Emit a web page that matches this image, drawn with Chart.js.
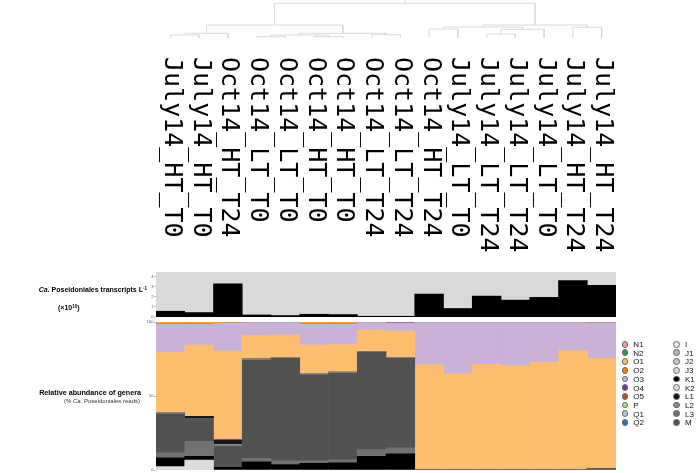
<!DOCTYPE html>
<html>
<head>
<meta charset="utf-8">
<script src="https://cdn.jsdelivr.net/npm/chart.js@4.4.1/dist/chart.umd.min.js"></script>
<style>
  body { margin: 0; background: #fff; width: 699px; height: 473px; position: relative; overflow: hidden; font-family: "Liberation Sans", Arial, sans-serif; }
  canvas { position: absolute; }
  .lbl { position: absolute; color: #000; white-space: nowrap; }
  .lbl sup { font-size: 4.5px; position: relative; top: -2.5px; vertical-align: baseline; }
  #legend { position: absolute; left: 621.5px; top: 340px; font-size: 8px; color: #111; }
  #legend .item { position: absolute; width: 50px; height: 9px; line-height: 9px; white-space: nowrap; }
  #legend .dot { display: inline-block; width: 6.8px; height: 6.8px; box-sizing: border-box; border-radius: 50%; border: 0.7px solid #666; vertical-align: -0.6px; margin-right: 5px; }
</style>
</head>
<body>
<canvas id="dendro" width="460" height="262" style="left:156px;top:0px"></canvas>
<canvas id="topChart" width="518" height="52" style="left:100px;top:268px"></canvas>
<canvas id="stackChart" width="518" height="155" style="left:100px;top:318px"></canvas>

<div class="lbl" style="right:552px;top:286px;font-size:7px;line-height:8px;font-weight:bold"><i>Ca.</i> Poseidoniales transcripts L<sup>-1</sup></div>
<div class="lbl" style="left:58px;top:304px;font-size:7px;line-height:8px;font-weight:bold">(×10<sup>10</sup>)</div>
<div class="lbl" style="right:558px;top:389px;font-size:7.2px;line-height:8px;font-weight:bold">Relative abundance of genera</div>
<div class="lbl" style="right:559px;top:398px;font-size:6px;line-height:7px;color:#333">(% <i>Ca.</i> Poseidoniales reads)</div>
<div id="legend"></div>

<script>
var samples = ['July14_HT_T0', 'July14_HT_T0', 'Oct14_HT_T24', 'Oct14_LT_T0', 'Oct14_LT_T0', 'Oct14_HT_T0',
    'Oct14_HT_T0', 'Oct14_LT_T24', 'Oct14_LT_T24', 'Oct14_HT_T24', 'July14_LT_T0', 'July14_LT_T24',
    'July14_LT_T24', 'July14_LT_T0', 'July14_HT_T24', 'July14_HT_T24'];

// transcripts L-1 (x10^10)
var transcripts = [0.57, 0.44, 3.27, 0.2, 0.14, 0.27, 0.24, 0.07, 0.07, 2.27, 0.84, 2.07, 1.67, 1.94, 3.6, 3.14];

// dendrogram merges: [child a, child b, height]; ids >= 16 are earlier merges
var merges = [
    [0, 1, 3.0], [16, 2, 4.7], [3, 4, 1.3], [5, 6, 1.3], [18, 19, 3.0], [7, 8, 3.3],
    [20, 21, 4.7], [17, 22, 13.0], [9, 10, 9.0], [11, 12, 4.0], [25, 13, 8.7],
    [24, 26, 11.0], [14, 15, 10.7], [27, 28, 13.0], [23, 29, 34.7]
];

// relative abundance of genera (% reads), one array per genus
var genusK2 = [2.3, 6.7, 0, 0, 0, 0, 0, 0, 0, 0, 0, 0, 0, 0, 0, 0];
var genusK1 = [6.0, 2.7, 1.8, 5.6, 3.8, 4.5, 5.0, 9.4, 11.0, 0, 0, 0, 0, 0, 0, 0];
var genusL3 = [3.4, 10.1, 0, 2.3, 2.5, 1.8, 2.0, 4.5, 4.1, 0, 0, 0, 0, 0, 0, 0];
var genusM  = [26.3, 15.3, 14.4, 66.6, 69.4, 58.1, 58.6, 65.8, 60.6, 0.6, 0.6, 0.6, 0.6, 0.6, 0.6, 1.0];
var genusL2 = [1.0, 0, 1.3, 1.0, 0.5, 1.0, 0.8, 0.5, 0.5, 0, 0, 0, 0, 0, 0, 0];
var genusL1 = [0, 1.6, 2.9, 0, 0, 0, 0, 0, 0, 0, 0, 0, 0, 0, 0, 0];
var genusN1 = [0, 0, 1.0, 0, 0, 0, 0, 0, 0, 0, 0, 0, 0, 0, 0, 0];
var genusO1 = [40.5, 48.2, 59.2, 15.5, 15.2, 19.2, 18.6, 14.5, 17.8, 70.6, 64.5, 71.0, 69.9, 72.4, 80.2, 74.7];
var genusO3 = [19.5, 14.4, 18.9, 9.0, 8.6, 14.4, 14.0, 5.3, 5.5, 28.8, 34.9, 28.4, 29.5, 27.0, 19.2, 24.0];
var genusO4 = [0, 0, 0, 0, 0, 0, 0, 0, 0.5, 0, 0, 0, 0, 0, 0, 0];
var genusO2 = [1.0, 1.0, 0.5, 0, 0, 1.0, 1.0, 0, 0, 0, 0, 0, 0, 0, 0, 0.3];

var legendNames = ['N1', 'N2', 'O1', 'O2', 'O3', 'O4', 'O5', 'P', 'Q1', 'Q2',
    'I', 'J1', 'J2', 'J3', 'K1', 'K2', 'L1', 'L2', 'L3', 'M'];
var legendColors = ['#f49a9a', '#2e9a45', '#fdbf6f', '#ff7f00', '#cab2d6', '#6a3d9a', '#b15928', '#b2df8a', '#a6cee3', '#1f78b4',
    '#ececec', '#b4b4b4', '#c4c4c4', '#d8d8d8', '#000000', '#dcdcdc', '#161616', '#8a8a8a', '#727272', '#525252'];

// stacking order, bottom to top
var stackOrder = ['K2', 'K1', 'L3', 'M', 'L2', 'L1', 'N1', 'O1', 'O3', 'O4', 'O2'];
var genusData = { K2: genusK2, K1: genusK1, L3: genusL3, M: genusM, L2: genusL2, L1: genusL1,
    N1: genusN1, O1: genusO1, O3: genusO3, O4: genusO4, O2: genusO2 };

function colorOf(name) {
    return legendColors[legendNames.indexOf(name)];
}

// ---- dendrogram ----
var nodeX = [], nodeH = [];
for (var i = 0; i < samples.length; i++) { nodeX.push(i + 0.5); nodeH.push(0); }
var dendroPts = [];
merges.forEach(function(m) {
    var a = m[0], b = m[1], h = m[2];
    dendroPts.push({x: nodeX[a], y: nodeH[a]}, {x: nodeX[a], y: h}, {x: nodeX[b], y: h}, {x: nodeX[b], y: nodeH[b]}, {x: NaN, y: NaN});
    nodeX.push((nodeX[a] + nodeX[b]) / 2);
    nodeH.push(h);
});
var rootX = nodeX[nodeX.length - 1], rootH = nodeH[nodeH.length - 1];
dendroPts.push({x: rootX, y: rootH}, {x: rootX, y: 38});

var sampleLabels = {
    id: 'sampleLabels',
    afterDraw: function(chart) {
        var ctx = chart.ctx, xs = chart.scales.x;
        ctx.save();
        ctx.font = '25px "DejaVu Sans Mono", monospace';
        ctx.fillStyle = '#000';
        ctx.textAlign = 'left';
        ctx.textBaseline = 'alphabetic';
        samples.forEach(function(s, i) {
            ctx.save();
            ctx.translate(xs.getPixelForValue(i + 0.5), 57);
            ctx.rotate(Math.PI / 2);
            ctx.fillText(s, 0, 5.4);
            ctx.restore();
        });
        ctx.restore();
    }
};

new Chart(document.getElementById('dendro'), {
    type: 'scatter',
    data: { datasets: [{ data: dendroPts, showLine: true, spanGaps: false, borderColor: '#dadada', borderWidth: 1, pointRadius: 0 }] },
    options: {
        responsive: false, animation: false, devicePixelRatio: 1,
        layout: { padding: { top: 0, left: 0, right: 0, bottom: 222 } },
        plugins: { legend: { display: false }, tooltip: { enabled: false } },
        scales: {
            x: { type: 'linear', display: false, min: 0, max: samples.length },
            y: { type: 'linear', display: false, min: -2, max: 38 }
        },
        elements: { line: { tension: 0 } },
        clip: false
    },
    plugins: [sampleLabels]
});

// ---- transcripts panel ----
var plotBg = {
    id: 'plotBg',
    beforeDatasetsDraw: function(chart) {
        var a = chart.chartArea, ctx = chart.ctx;
        ctx.save();
        ctx.fillStyle = '#d9d9d9';
        ctx.fillRect(a.left, a.top, a.right - a.left, a.bottom - a.top);
        ctx.restore();
    }
};

function yAxis(max, step) {
    return {
        min: 0, max: max,
        afterFit: function(s) { s.width = 56; },
        border: { display: false },
        grid: { drawOnChartArea: false, tickLength: 2, color: '#888', lineWidth: 0.6 },
        ticks: { stepSize: step, includeBounds: false, font: { size: 4, family: 'Liberation Sans' }, color: '#555', padding: 0.5 }
    };
}

new Chart(document.getElementById('topChart'), {
    type: 'bar',
    data: { labels: samples, datasets: [{ data: transcripts, backgroundColor: '#000', borderWidth: 0, barPercentage: 1, categoryPercentage: 1 }] },
    options: {
        responsive: false, animation: false, devicePixelRatio: 1,
        layout: { padding: { top: 4, right: 2, bottom: 3, left: 0 } },
        plugins: { legend: { display: false }, tooltip: { enabled: false } },
        scales: { x: { display: false }, y: yAxis(4.45, 1) }
    },
    plugins: [plotBg]
});

// ---- relative abundance panel ----
var stackSets = stackOrder.map(function(name) {
    return { label: name, data: genusData[name], backgroundColor: colorOf(name), borderWidth: 0,
        barPercentage: 1, categoryPercentage: 1 };
});

new Chart(document.getElementById('stackChart'), {
    type: 'bar',
    data: { labels: samples, datasets: stackSets },
    options: {
        responsive: false, animation: false, devicePixelRatio: 1,
        layout: { padding: { top: 4.3, right: 2, bottom: 2.4, left: 0 } },
        plugins: { legend: { display: false }, tooltip: { enabled: false } },
        scales: {
            x: { display: false, stacked: true },
            y: Object.assign(yAxis(100, 50), { stacked: true })
        }
    }
});

// legend, two columns of ten
var legend = document.getElementById('legend');
legendNames.forEach(function(name, i) {
    var col = Math.floor(i / 10), row = i % 10;
    var el = document.createElement('div');
    el.className = 'item';
    el.style.left = (col * 51.7) + 'px';
    el.style.top = (row * 8.7) + 'px';
    el.innerHTML = '<span class="dot" style="background:' + legendColors[i] + '"></span>' + name;
    legend.appendChild(el);
});
</script>
</body>
</html>
